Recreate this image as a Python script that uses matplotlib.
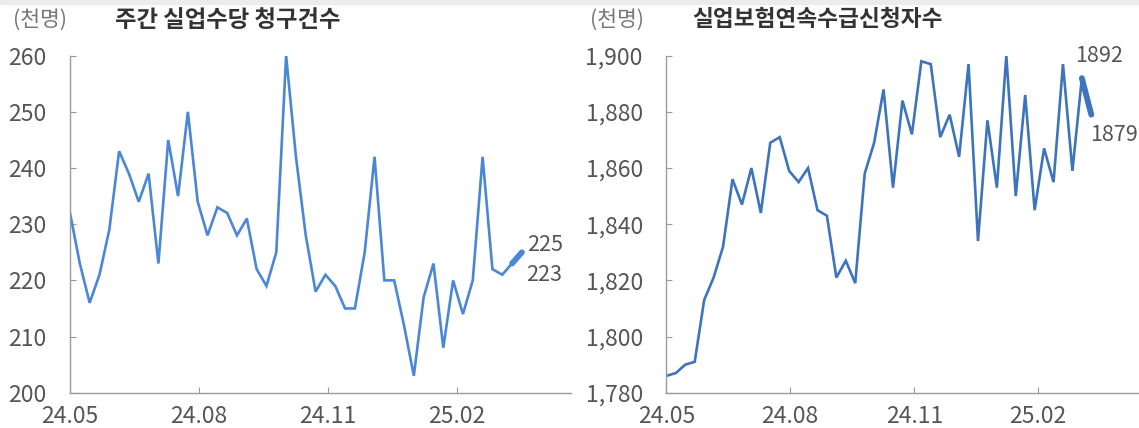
import matplotlib.pyplot as plt
from matplotlib.patches import Rectangle

plt.rcParams['font.family'] = ['Noto Sans CJK KR', 'DejaVu Sans']

# weekly data, starting first week of 2024.05
claims = [232, 223, 216, 221, 229, 243, 239, 234, 239, 223,
          245, 235, 250, 234, 228, 233, 232, 228, 231, 222,
          219, 225, 260, 242, 228, 218, 221, 219, 215, 215,
          225, 242, 220, 220, 212, 203, 217, 223, 208, 220,
          214, 220, 242, 222, 221, 223, 225]

continuing = [1786, 1787, 1790, 1791, 1813, 1821, 1832, 1856, 1847, 1860,
              1844, 1869, 1871, 1859, 1855, 1860, 1845, 1843, 1821, 1827,
              1819, 1858, 1869, 1888, 1853, 1884, 1872, 1898, 1897, 1871,
              1879, 1864, 1897, 1834, 1877, 1853, 1900, 1850, 1886, 1845,
              1867, 1855, 1897, 1859, 1892, 1879]

tick_pos = [0, 13.1, 26.25, 39.35]
tick_labels = ["24.05", "24.08", "24.11", "25.02"]

unit = "(천명)"
title_left = "주간 실업수당 청구건수"
title_right = "실업보험연속수급신청자수"

c_left = '#4a87d6'
c_right = '#3d74bb'
spine_c = '#9a9a9a'
txt_c = '#555555'
FS = 16.5
FA = 15.5

W, H = 1139, 428
fig = plt.figure(figsize=(W / 100, H / 100), dpi=100)
fig.patches.append(Rectangle((0, 1 - 4 / H), 1, 4 / H, transform=fig.transFigure,
                             color='#ececec', zorder=0))

ax1 = fig.add_axes([70 / W, 35.3 / H, 501 / W, 337 / H])
ax2 = fig.add_axes([666.4 / W, 35.3 / H, 474 / W, 337 / H])


def style(ax, xmax):
	for s in ['top', 'right']:
		ax.spines[s].set_visible(False)
	for s in ['left', 'bottom']:
		ax.spines[s].set_color(spine_c)
		ax.spines[s].set_linewidth(1.0)
	ax.set_xlim(0, xmax)
	ax.set_xticks(tick_pos)
	ax.set_xticklabels(tick_labels)
	ax.tick_params(axis='both', direction='in', color=spine_c, length=4,
	               labelcolor=txt_c, labelsize=FS)
	ax.tick_params(axis='y', pad=17)
	ax.tick_params(axis='x', pad=9)


# left panel
x1 = list(range(len(claims)))
ax1.plot(x1, claims, color=c_left, lw=1.9, solid_joinstyle='miter')
ax1.plot(x1[-2:], claims[-2:], color=c_left, lw=4.2, solid_capstyle='round')
ax1.set_ylim(200, 260)
ax1.set_yticks(range(200, 261, 10))
style(ax1, 51)
ax1.annotate(str(claims[-1]), (x1[-1], claims[-1]), xytext=(3.5, 5),
             textcoords='offset points', fontsize=FA, color=txt_c, va='center', ha='left')
ax1.annotate(str(claims[-2]), (x1[-2], claims[-2]), xytext=(10, -8.5),
             textcoords='offset points', fontsize=FA, color=txt_c, va='center', ha='left')

# right panel
x2 = list(range(len(continuing)))
ax2.plot(x2, continuing, color=c_right, lw=1.9, solid_joinstyle='miter')
ax2.plot(x2[-2:], continuing[-2:], color=c_right, lw=4.2, solid_capstyle='round')
ax2.set_ylim(1780, 1900)
ax2.set_yticks(range(1780, 1901, 20))
ax2.set_yticklabels([f"{v:,}" for v in range(1780, 1901, 20)])
style(ax2, 50.2)
ax2.annotate(str(continuing[-2]), (x2[-2], continuing[-2]), xytext=(-4.5, 16),
             textcoords='offset points', fontsize=FA, color=txt_c, va='center', ha='left')
ax2.annotate(str(continuing[-1]), (x2[-1], continuing[-1]), xytext=(-1, -14.5),
             textcoords='offset points', fontsize=FA, color=txt_c, va='center', ha='left')

# headers
fig.text(13 / W, 1 - 20 / H, unit, fontsize=15.5, color='#777777', va='center', ha='left')
fig.text(115 / W, 1 - 20 / H, title_left, fontsize=16.8, color='#333333',
         fontweight='bold', va='center', ha='left')
fig.text(590 / W, 1 - 20 / H, unit, fontsize=15.5, color='#777777', va='center', ha='left')
fig.text(692 / W, 1 - 20 / H, title_right, fontsize=16.3, color='#333333',
         fontweight='bold', va='center', ha='left')

plt.savefig("out.png", dpi=100)
